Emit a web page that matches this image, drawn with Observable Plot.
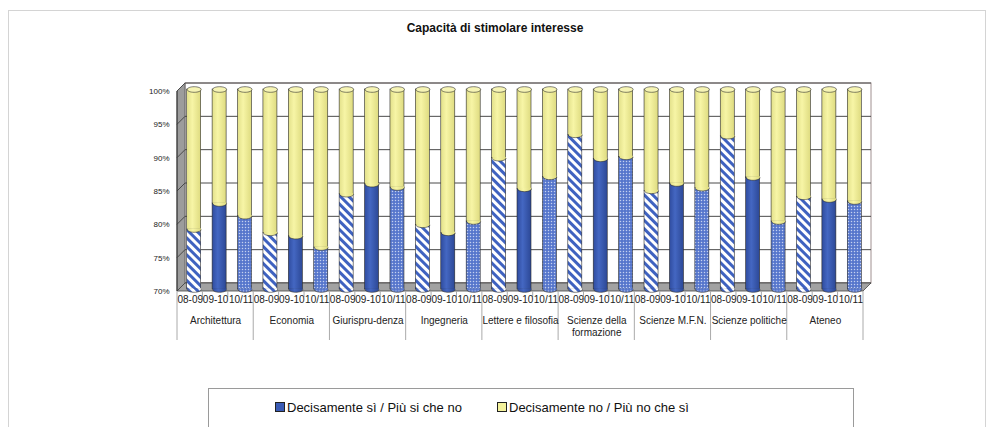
<!DOCTYPE html>
<html><head><meta charset="utf-8">
<script src="https://cdn.jsdelivr.net/npm/d3@7"></script>
<script src="https://cdn.jsdelivr.net/npm/@observablehq/plot@0.6"></script>
<style>
body{margin:0;background:#fff;font-family:"Liberation Sans",Arial,sans-serif;}
#wrap{position:relative;width:990px;height:427px;overflow:hidden;background:#fff;}
#frame{position:absolute;left:8px;top:10px;width:978px;height:440px;border:1px solid #d4d4d4;box-sizing:border-box;}
#title{position:absolute;left:0;top:21px;width:990px;text-align:center;font-weight:bold;font-size:12px;color:#111;}
#chart{position:absolute;left:0;top:0;}
#legend{position:absolute;left:208px;top:388px;width:646px;height:60px;border:1px solid #9a9a9a;box-sizing:border-box;}
.li{position:absolute;top:11px;font-size:13px;color:#111;white-space:nowrap;line-height:16px;}
.sw{display:inline-block;width:8px;height:8px;border:1px solid #222;margin-right:2px;vertical-align:0px;}
</style></head><body>
<div id="wrap">
  <div id="frame"></div>
  <div id="title"></div>
  <div id="chart"></div>
  <div id="legend"></div>
</div>
<script>
const title = "Capacità di stimolare interesse";
const groups = ["Architettura","Economia","Giurisprudenza","Ingegneria","Lettere e filosofia","Scienze della formazione","Scienze M.F.N.","Scienze politiche","Ateneo"];
const groupLabels = ["Architettura","Economia","Giurispru-denza","Ingegneria","Lettere e filosofia","Scienze della\nformazione","Scienze M.F.N.","Scienze politiche","Ateneo"];
const years = ["08-09","09-10","10/11"];
// share "Decisamente sì / Più si che no" (%), per year
const v0809 = [79.0, 78.5, 84.3, 79.7, 89.7, 93.2, 84.8, 93.0, 83.9];
const v0910 = [82.9, 78.0, 85.8, 78.5, 85.1, 89.6, 85.9, 86.8, 83.5];
const v1011 = [81.0, 76.3, 85.3, 80.2, 86.9, 89.9, 85.2, 80.2, 83.2];
const yTicks = [70, 75, 80, 85, 90, 95, 100];
const seriesNames = ["Decisamente sì / Più si che no", "Decisamente no / Più no che sì"];
const seriesColors = ["#3a5bb5", "#f4f29c"];

const byYear = [v0809, v0910, v1011];
const data = [];
groups.forEach((g, i) => years.forEach((y, j) => data.push({key: g + "|" + y, group: g, year: y, value: byYear[j][i]})));
const keys = data.map(d => d.key);
const groupRows = groups.map((g, i) => ({key: g + "|" + years[1], label: groupLabels[i]}));

document.getElementById("title").textContent = title;
document.getElementById("legend").innerHTML =
  `<div class="li" style="left:66px"><span class="sw" style="background:${seriesColors[0]}"></span>${seriesNames[0]}</div>` +
  `<div class="li" style="left:288px"><span class="sw" style="background:${seriesColors[1]}"></span>${seriesNames[1]}</div>`;

// ellipse symbols (rx from dot radius)
const K = 0.5523;
const RY = 0.4;
const fullEllipse = {draw(c, size) { const rx = Math.sqrt(size / Math.PI), ry = rx * RY;
  c.moveTo(rx, 0); c.bezierCurveTo(rx, ry*K, rx*K, ry, 0, ry); c.bezierCurveTo(-rx*K, ry, -rx, ry*K, -rx, 0);
  c.bezierCurveTo(-rx, -ry*K, -rx*K, -ry, 0, -ry); c.bezierCurveTo(rx*K, -ry, rx, -ry*K, rx, 0); c.closePath(); }};
const lowerFill = {draw(c, size) { const rx = Math.sqrt(size / Math.PI) - 0.3, ry = (rx + 0.3) * RY;
  c.moveTo(rx, -1.2); c.lineTo(-rx, -1.2); c.lineTo(-rx, 0);
  c.bezierCurveTo(-rx, ry*K, -rx*K, ry, 0, ry); c.bezierCurveTo(rx*K, ry, rx, ry*K, rx, 0); c.closePath(); }};
const lowerArc = {draw(c, size) { const rx = Math.sqrt(size / Math.PI), ry = rx * RY;
  c.moveTo(-rx, 0); c.bezierCurveTo(-rx, ry*K, -rx*K, ry, 0, ry); c.bezierCurveTo(rx*K, ry, rx, ry*K, rx, 0); }};

const DX = 8, DY = -8;     // depth of the 3D box
const BX = 4, BY = -2;     // bars sit mid-depth
const R = 7;               // cylinder radius
const W = 990, H = 350, ML = 177, MR = 127, MT = 91, MB = 59;
const ins = ((W - ML - MR) / keys.length - 2 * R) / 2;

function decor(index, scales, values, dims) {
  const {x, y} = scales;
  const L = dims.marginLeft, Rr = dims.width - dims.marginRight, T = y(100), B = y(70);
  const g = d3.create("svg:g");
  g.append("rect").attr("x", L + DX).attr("y", T + DY).attr("width", Rr - L).attr("height", B - T)
    .attr("fill", "#fff").attr("stroke", "#a09090").attr("stroke-width", 1);
  g.append("path").attr("d", `M${L},${T}L${L+DX},${T+DY}L${L+DX},${B+DY}L${L},${B}Z`)
    .attr("fill", "#9c9c9c").attr("stroke", "#555").attr("stroke-width", 0.8);
  for (const t of yTicks) {
    const yy = y(t);
    g.append("path").attr("d", `M${L},${yy}L${L+DX},${yy+DY}L${Rr+DX},${yy+DY}`)
      .attr("fill", "none").attr("stroke", "#4a4a4a").attr("stroke-width", 1);
  }
  g.append("path").attr("d", `M${L},${B}L${L+DX},${B+DY}L${Rr+DX},${B+DY}L${Rr},${B}Z`)
    .attr("fill", "#a2a2a2").attr("stroke", "#444").attr("stroke-width", 0.8);
  g.append("line").attr("x1", L).attr("x2", L).attr("y1", T).attr("y2", B).attr("stroke", "#333");
  keys.forEach((k, i) => {
    const xx = x(k);
    g.append("line").attr("x1", xx).attr("x2", xx).attr("y1", B).attr("y2", i % 3 === 0 ? B + 49 : B + 6)
      .attr("stroke", "#aaa").attr("stroke-width", 1);
  });
  g.append("line").attr("x1", Rr).attr("x2", Rr).attr("y1", B).attr("y2", B + 49).attr("stroke", "#aaa");
  return g.node();
}

const common = {x: "key", dx: BX, dy: BY};
const stroke = "#2b2b2b", sw = 0.6;

const chart = Plot.plot({
  width: W, height: H, marginLeft: ML, marginRight: MR, marginTop: MT, marginBottom: MB,
  style: {background: "transparent", fontFamily: "'Liberation Sans', Arial, sans-serif", overflow: "visible"},
  x: {type: "band", domain: keys, padding: 0, round: false, label: null, axis: null},
  y: {domain: [70, 100], label: null, axis: null},
  color: {type: "ordinal", domain: years, range: ["url(#pStripe)", "url(#pSolid)", "url(#pDots)"]},
  marks: [
    decor,
    Plot.barY(data, {...common, y1: 70, y2: "value", fill: "year", stroke, strokeWidth: sw, insetLeft: ins, insetRight: ins}),
    Plot.dot(data, {...common, y: () => 70, r: R, symbol: lowerFill, fill: "year", stroke: "none"}),
    Plot.dot(data, {...common, y: () => 70, r: R, symbol: lowerArc, fill: "none", stroke, strokeWidth: sw}),
    Plot.barY(data, {...common, y1: "value", y2: 100, fill: "url(#yGrad)", stroke, strokeWidth: sw, insetLeft: ins, insetRight: ins}),
    Plot.dot(data, {...common, y: "value", r: R, symbol: lowerFill, fill: "url(#yGrad)", stroke: "none"}),
    Plot.dot(data, {...common, y: "value", r: R, symbol: lowerArc, fill: "none", stroke, strokeWidth: sw}),
    Plot.dot(data, {...common, y: () => 100, r: R, symbol: fullEllipse, fill: "#f6f4b4", stroke, strokeWidth: sw}),
    Plot.axisY({ticks: yTicks, tickFormat: d => d + "%", tickSize: 0, tickPadding: 8, fontSize: 8, fill: "#222"}),
    Plot.axisX({tickFormat: k => k.split("|")[1], tickSize: 0, tickPadding: 4, fontSize: 10, fill: "#222"}),
    Plot.text(groupRows, {x: "key", y: () => 70, text: "label", dy: 24, lineAnchor: "top", fontSize: 10, lineHeight: 1.2, fill: "#222"})
  ]
});

const svg = chart.tagName.toLowerCase() === "svg" ? chart : chart.querySelector("svg");
svg.insertAdjacentHTML("afterbegin", `
<defs>
  <linearGradient id="yGrad" x1="0" x2="1" y1="0" y2="0">
    <stop offset="0" stop-color="#e2e08a"/><stop offset="0.4" stop-color="#f7f5a6"/><stop offset="1" stop-color="#dedb80"/>
  </linearGradient>
  <linearGradient id="pSolid" x1="0" x2="1" y1="0" y2="0">
    <stop offset="0" stop-color="#2f4c9f"/><stop offset="0.4" stop-color="#4467c2"/><stop offset="1" stop-color="#2c4896"/>
  </linearGradient>
  <pattern id="pStripe" patternUnits="userSpaceOnUse" width="6" height="6" patternTransform="rotate(-45)">
    <rect width="6" height="6" fill="#ffffff"/><rect width="3" height="6" fill="#3f62c0"/>
  </pattern>
  <pattern id="pDots" patternUnits="userSpaceOnUse" width="3" height="3">
    <rect width="3" height="3" fill="#5676cc"/><circle cx="1.5" cy="1.5" r="0.75" fill="#c4d0f0"/>
  </pattern>
</defs>`);
document.getElementById("chart").appendChild(chart);
</script>
</body></html>
